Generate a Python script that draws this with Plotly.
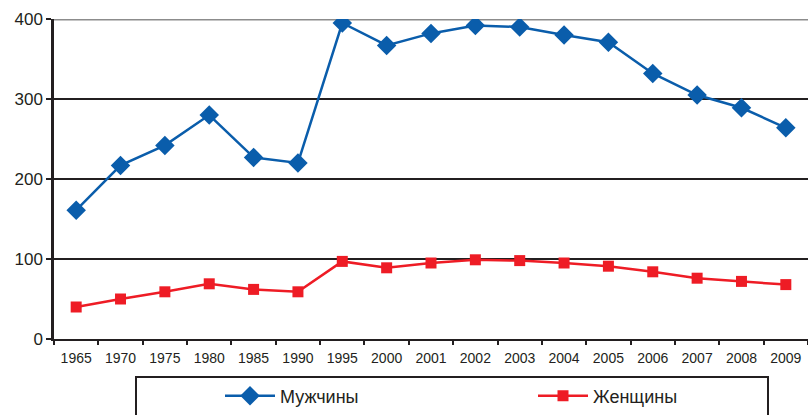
import plotly.graph_objects as go

years = ["1965", "1970", "1975", "1980", "1985", "1990", "1995", "2000", "2001",
         "2002", "2003", "2004", "2005", "2006", "2007", "2008", "2009"]
men = [161, 217, 242, 280, 227, 220, 395, 367, 382, 392, 390, 380, 371, 332, 305, 289, 264]
women = [40, 50, 59, 69, 62, 59, 97, 89, 95, 99, 98, 95, 91, 84, 76, 72, 68]
y_ticks = [0, 100, 200, 300, 400]

BLUE = "#0a5dab"
RED = "#ee1c25"
INK = "#231f20"

L, T, W, H = 54, 19, 754, 320


def px_x(p):
    return (p - L) / W


def px_y(p):
    return (T + H - p) / H


fig = go.Figure()
fig.add_trace(go.Scatter(
    x=years, y=men, name="Мужчины", mode="lines+markers", legend="legend",
    line=dict(color=BLUE, width=2.5),
    marker=dict(symbol="diamond", size=15, color=BLUE),
))
fig.add_trace(go.Scatter(
    x=years, y=women, name="Женщины", mode="lines+markers", legend="legend2",
    line=dict(color=RED, width=2.5),
    marker=dict(symbol="square", size=11, color=RED),
))

# top gridline drawn grey, others black
fig.add_shape(type="line", xref="paper", yref="y", x0=0, x1=1, y0=400, y1=400,
              line=dict(color="#8c8c8c", width=3), layer="between")

# legend frame, running off the bottom of the page
fig.add_shape(type="rect", xref="paper", yref="paper",
              x0=px_x(136), x1=px_x(768), y0=px_y(440), y1=px_y(377),
              line=dict(color=INK, width=2), fillcolor="rgba(0,0,0,0)")

legend_common = dict(
    orientation="h", yanchor="middle", y=px_y(396), xanchor="left",
    itemwidth=50, font=dict(size=18, color=INK), bgcolor="rgba(0,0,0,0)",
    borderwidth=0,
)

fig.update_layout(
    width=808, height=415,
    margin=dict(l=L, r=808 - L - W, t=T, b=415 - T - H, autoexpand=False),
    paper_bgcolor="white", plot_bgcolor="white",
    font=dict(family="Liberation Sans, Arial, sans-serif", color=INK),
    showlegend=True,
    legend=dict(x=px_x(220), **legend_common),
    legend2=dict(x=px_x(533), **legend_common),
    xaxis=dict(
        type="category", range=[-0.5, 16.5],
        showline=True, linecolor=INK, linewidth=2,
        ticks="outside", tickson="boundaries", ticklen=4, tickwidth=2, tickcolor=INK,
        ticklabelstandoff=5,
        showgrid=False, tickfont=dict(size=14, color=INK),
    ),
    yaxis=dict(
        range=[0, 400], tickvals=y_ticks,
        showline=True, linecolor=INK, linewidth=2.5,
        ticks="outside", ticklen=5, tickwidth=2, tickcolor=INK,
        showgrid=True, gridcolor=INK, gridwidth=2,
        zeroline=False, tickfont=dict(size=17, color=INK),
    ),
)

fig.write_html("out.html")
